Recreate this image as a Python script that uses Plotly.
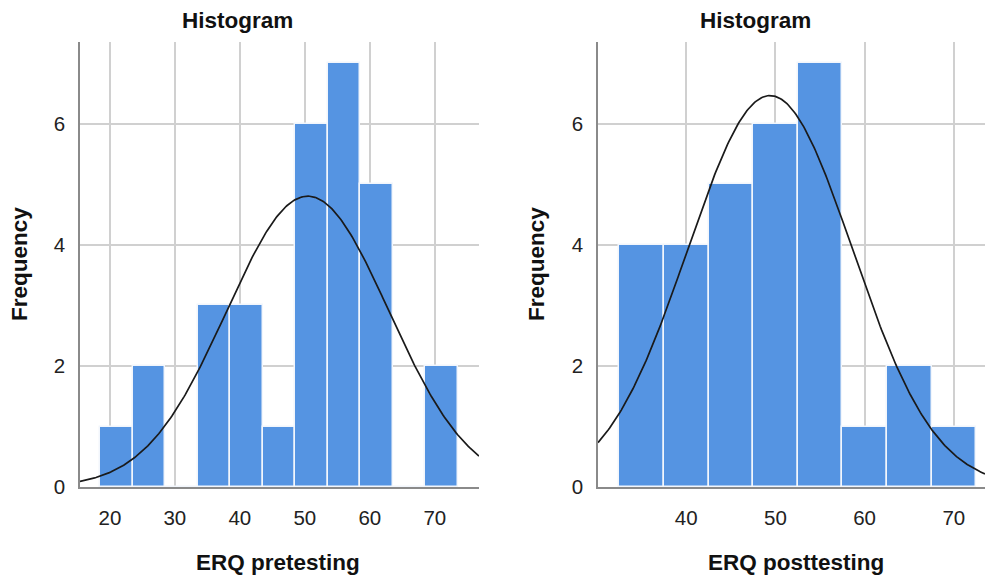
import numpy as np
import plotly.graph_objects as go

# ---- data ----
pre_bin_centers = [21, 26, 31, 36, 41, 46, 51, 56, 61, 66, 71]
pre_counts = [1, 2, 0, 3, 3, 1, 6, 7, 5, 0, 2]
post_bin_centers = [35, 40, 45, 50, 55, 60, 65, 70]
post_counts = [4, 4, 5, 6, 7, 1, 2, 1]
bin_width = 5
pre_mean, pre_sd = 50.45, 12.45
post_mean, post_sd = 49.4, 9.25
n_cases = 30
pre_ticks = [20, 30, 40, 50, 60, 70]
post_ticks = [40, 50, 60, 70]
y_ticks = [0, 2, 4, 6]

W, H = 987, 575
BAR = "#5594e2"
GRID = "#d0d0d0"
AX = "#8a8a8a"
FONT = "Liberation Sans, Arial, sans-serif"

def normal_curve(xr, mu, sd):
    xs = np.linspace(xr[0], xr[1], 300)
    ys = n_cases * bin_width / (sd * np.sqrt(2 * np.pi)) * np.exp(-0.5 * ((xs - mu) / sd) ** 2)
    return xs, ys

pre_range = [15.4, 76.8]
post_range = [30.1, 73.5]
y_range = [0, 7.355]

fig = go.Figure()
fig.add_trace(go.Bar(x=pre_bin_centers, y=pre_counts, width=bin_width,
                     marker=dict(color=BAR, line=dict(color="#f2f6fc", width=1.5)),
                     xaxis="x", yaxis="y", showlegend=False))
xs, ys = normal_curve(pre_range, pre_mean, pre_sd)
fig.add_trace(go.Scatter(x=xs, y=ys, mode="lines", line=dict(color="#1a1a1a", width=1.7),
                         xaxis="x", yaxis="y", showlegend=False))
fig.add_trace(go.Bar(x=post_bin_centers, y=post_counts, width=bin_width,
                     marker=dict(color=BAR, line=dict(color="#f2f6fc", width=1.5)),
                     xaxis="x2", yaxis="y2", showlegend=False))
xs2, ys2 = normal_curve(post_range, post_mean, post_sd)
fig.add_trace(go.Scatter(x=xs2, y=ys2, mode="lines", line=dict(color="#1a1a1a", width=1.7),
                         xaxis="x2", yaxis="y2", showlegend=False))

ydom = [1 - 487 / H, 1 - 42 / H]
common_x = dict(showgrid=True, gridcolor=GRID, gridwidth=1.5, zeroline=False, automargin=False,
                showline=True, linecolor=AX, linewidth=1.5, ticks="",
                tickfont=dict(family=FONT, size=20.5, color="#222"), ticklabelstandoff=12)
common_y = dict(range=y_range, tickvals=y_ticks, showgrid=True, gridcolor=GRID, gridwidth=1.5,
                zeroline=False, showline=True, linecolor=AX, linewidth=1.5, ticks="", automargin=False,
                tickfont=dict(family=FONT, size=20.5, color="#222"), ticklabelstandoff=9)

fig.update_layout(
    template="none", autosize=False,
    width=W, height=H, margin=dict(l=0, r=0, t=0, b=0, pad=0),
    plot_bgcolor="white", paper_bgcolor="white", bargap=0,
    xaxis=dict(domain=[80 / W, 479 / W], range=pre_range, tickvals=pre_ticks, anchor="y", **common_x),
    yaxis=dict(domain=ydom, anchor="x", **common_y),
    xaxis2=dict(domain=[598 / W, 985 / W], range=post_range, tickvals=post_ticks, anchor="y2", **common_x),
    yaxis2=dict(domain=ydom, anchor="x2", **common_y),
)

def ann(text, x, y, angle=0, size=22.5):
    fig.add_annotation(text="<b>%s</b>" % text, x=x / W, y=1 - y / H, xref="paper", yref="paper",
                       showarrow=False, textangle=angle, xanchor="center", yanchor="middle",
                       font=dict(family=FONT, size=size, color="#111"))

ann("Histogram", 237, 20)
ann("Histogram", 755, 20)
ann("ERQ pretesting", 278, 562)
ann("ERQ posttesting", 796, 562)
ann("Frequency", 20, 264, angle=-90)
ann("Frequency", 537, 264, angle=-90)

fig.write_html("out.html", config={"displayModeBar": False, "responsive": False},
               post_script="document.body.style.margin='0';document.body.style.overflow='hidden';")
